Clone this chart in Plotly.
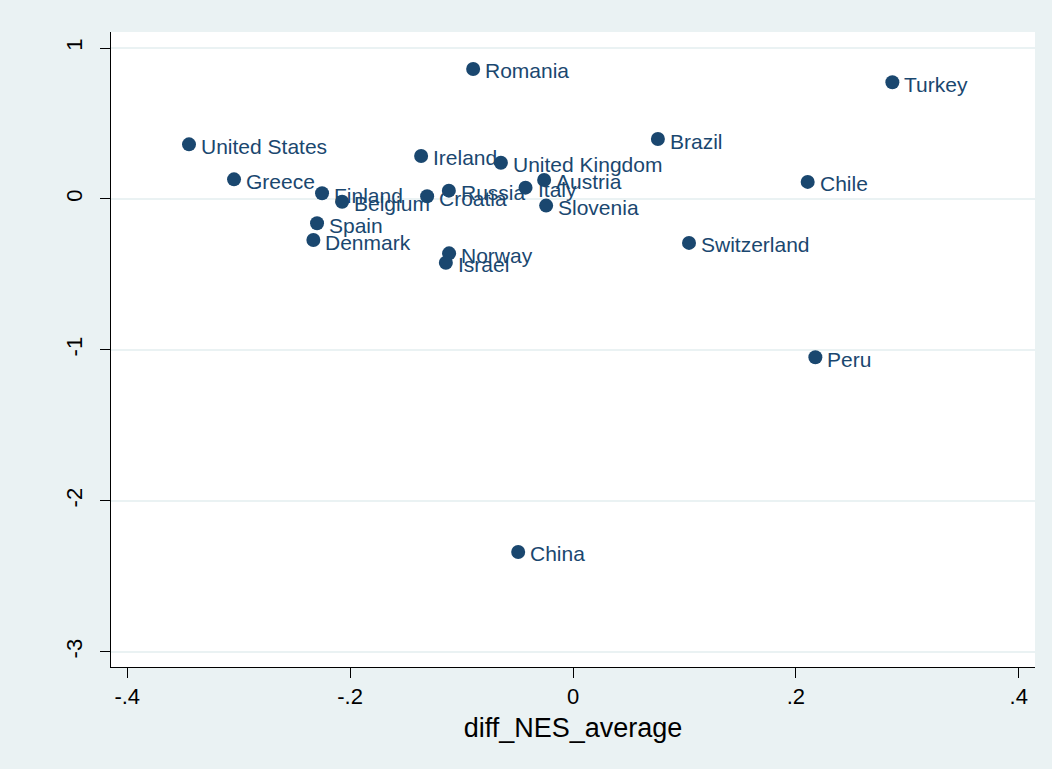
import plotly.graph_objects as go

# Country-level scores
countries = [
    "Romania", "Turkey", "United States", "Brazil", "Ireland", "United Kingdom",
    "Greece", "Chile", "Finland", "Belgium", "Croatia", "Russia", "Italy",
    "Austria", "Slovenia", "Spain", "Denmark", "Norway", "Israel",
    "Switzerland", "Peru", "China",
]
diff_nes_average = [
    -0.0896, 0.2866, -0.3446, 0.0762, -0.1363, -0.0647,
    -0.3042, 0.2106, -0.2252, -0.2072, -0.1309, -0.1114, -0.0426,
    -0.0259, -0.0241, -0.2297, -0.2330, -0.1112, -0.1141,
    0.1041, 0.2175, -0.0492,
]
y_values = [
    0.861, 0.773, 0.362, 0.397, 0.285, 0.240,
    0.130, 0.113, 0.038, -0.018, 0.018, 0.055, 0.075,
    0.126, -0.044, -0.161, -0.272, -0.360, -0.422,
    -0.291, -1.048, -2.338,
]

x_ticks = [-0.4, -0.2, 0, 0.2, 0.4]
x_tick_labels = ["-.4", "-.2", "0", ".2", ".4"]
y_ticks = [1, 0, -1, -2, -3]
y_tick_labels = ["1", "0", "-1", "-2", "-3"]

navy = "#1a476f"
bg = "#eaf2f3"
font_family = "Liberation Sans, Arial, sans-serif"

fig = go.Figure(
    go.Scatter(
        x=diff_nes_average,
        y=y_values,
        mode="markers",
        marker=dict(size=14, color=navy),
        hoverinfo="skip",
    )
)

# Marker labels placed to the right of each point
for name, xv, yv in zip(countries, diff_nes_average, y_values):
    fig.add_annotation(
        x=xv, y=yv, text=name, showarrow=False,
        xanchor="left", yanchor="middle", xshift=10, yshift=-2,
        font=dict(family=font_family, size=21, color=navy),
    )

fig.update_layout(
    width=1052,
    height=769,
    margin=dict(l=111, r=17, t=32, b=102),
    paper_bgcolor=bg,
    plot_bgcolor="white",
    showlegend=False,
    font=dict(family=font_family, color="black"),
)

fig.update_xaxes(
    range=[-0.4146, 0.4146],
    tickvals=x_ticks,
    ticktext=x_tick_labels,
    ticks="outside",
    ticklen=10,
    tickcolor="black",
    tickfont=dict(size=22, color="black"),
    showline=True,
    linecolor="black",
    linewidth=1,
    showgrid=False,
    zeroline=False,
    title=dict(text="diff_NES_average", font=dict(size=27, color="black"), standoff=9),
)

fig.update_yaxes(
    range=[-3.1, 1.106],
    tickvals=y_ticks,
    ticktext=y_tick_labels,
    tickangle=-90,
    ticks="outside",
    ticklen=10,
    tickcolor="black",
    tickfont=dict(size=22, color="black"),
    ticklabelstandoff=9,
    showline=True,
    linecolor="black",
    linewidth=1,
    showgrid=True,
    gridcolor=bg,
    gridwidth=2,
    zeroline=False,
)

fig.write_html("out.html")
